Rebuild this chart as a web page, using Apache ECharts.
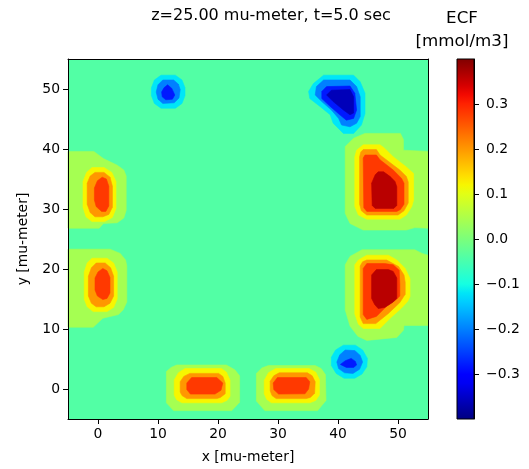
<!DOCTYPE html>
<html>
<head>
<meta charset="utf-8">
<title>ECF contour</title>
<script src="https://cdn.jsdelivr.net/npm/echarts@6/dist/echarts.min.js"></script>
<style>
  html, body { margin: 0; padding: 0; background: #fff; }
  #chart { width: 529px; height: 469px; }
</style>
</head>
<body>
<div id="chart"></div>
<script>
// contour band edges (mmol/m3), band i = [levelEdges[i], levelEdges[i+1]]
const levelEdges = [-0.4, -0.32, -0.24, -0.16, -0.08, 0, 0.08, 0.16, 0.24, 0.32, 0.4];
const backgroundLevel = 4;
const xTicks = [0, 10, 20, 30, 40, 50];
const yTicks = [0, 10, 20, 30, 40, 50];
const cbarTicks = [-0.3, -0.2, -0.1, 0, 0.1, 0.2, 0.3];
const cbarMin = -0.4;
const cbarMax = 0.4;

// contour polygons: [band, [[x, y], ...]] in mu-meter
const upperLeftBlob = [
  [5, [[-5, 39.6], [-0.7, 39.6], [0.9, 38.4], [3.2, 37.3], [4.3, 36.5], [4.7, 35.5], [4.7, 29.8], [4.3, 28.5], [3.2, 27.7], [0.9, 27.6], [0.2, 26.8], [-5, 26.8]]],
  [6, [[-1, 36.9], [1, 36.9], [2.3, 36.1], [3, 34.6], [3, 30.1], [2.4, 28.6], [1.1, 27.9], [-1, 27.9], [-2, 28.7], [-2.5, 30.3], [-2.5, 34.6], [-1.9, 36.1]]],
  [7, [[-0.5, 36.1], [1, 36.1], [2, 35.3], [2.4, 33.8], [2.4, 30.3], [1.8, 29.1], [0.8, 28.7], [-0.5, 28.7], [-1.3, 29.4], [-1.8, 30.8], [-1.8, 34.3], [-1.3, 35.5]]],
  [8, [[0.7, 35.3], [1.4, 35], [1.8, 33.8], [1.8, 30.5], [1.3, 29.6], [0.6, 29.6], [-0.3, 30.4], [-0.6, 31.5], [-0.6, 33.5], [-0.1, 34.7]]]
];

const lowerLeftBlob = [
  [5, [[-5, 23.3], [2, 23.3], [3.7, 22.6], [4.6, 21.5], [4.8, 20.5], [4.8, 14.5], [4.2, 13.2], [3.4, 12.4], [0.8, 11.8], [-0.8, 10.3], [-5, 10.3]]],
  [6, [[-1, 21.8], [1.5, 21.8], [2.6, 21], [3.2, 19.5], [3.2, 15], [2.6, 13.6], [1.5, 12.9], [-0.8, 12.9], [-1.8, 13.7], [-2.3, 15], [-2.3, 19.5], [-1.8, 21]]],
  [7, [[-0.3, 21], [1.2, 21], [2.1, 20.2], [2.6, 18.8], [2.6, 15.5], [2, 14.3], [1, 13.7], [-0.3, 13.7], [-1.1, 14.3], [-1.6, 15.5], [-1.6, 18.8], [-1.1, 20.2]]],
  [8, [[0.8, 20.1], [1.5, 19.7], [2, 18.6], [2, 16], [1.5, 15.1], [0.8, 14.9], [-0.1, 15.5], [-0.5, 16.5], [-0.5, 18.5], [0, 19.5]]]
];

const bottomLeftBlob = [
  [5, [[11.4, 2.9], [12.2, 3.6], [13.1, 4], [21.4, 4], [22.8, 3.2], [23.6, 2.2], [23.6, -2.2], [22.3, -3.6], [12.6, -3.6], [11.4, -2.3]]],
  [6, [[14.5, 3.4], [20.6, 3.4], [21.4, 2.8], [22, 1.5], [22, -1.2], [21.5, -1.9], [20.6, -2.3], [14, -2.3], [13.1, -1.8], [12.7, -1], [12.7, 1.5], [13.4, 2.7]]],
  [7, [[15.3, 2.6], [20.1, 2.6], [20.8, 2.1], [21.2, 1], [21.2, -0.8], [20.4, -1.4], [19.8, -1.6], [14.8, -1.6], [14, -1.1], [13.7, -0.5], [13.7, 1.2], [14.3, 2.1]]],
  [8, [[15.6, 1.9], [19.8, 1.9], [20.8, 1], [20.5, -0.2], [19.5, -0.85], [15.4, -0.85], [14.8, -0.1], [14.8, 1]]]
];

const bottomRightBlob = [
  [5, [[26.4, 2.6], [27.3, 3.5], [28.4, 3.9], [36.2, 3.9], [37.2, 3.4], [37.9, 2.4], [38, -1.9], [36.6, -3.6], [27.8, -3.6], [26.4, -2]]],
  [6, [[29.6, 3.4], [35.2, 3.4], [36.3, 2.8], [36.9, 1.6], [36.9, -1], [36.3, -1.9], [35.3, -2.3], [28.9, -2.3], [28.1, -1.7], [27.7, -0.8], [27.7, 1.4], [28.4, 2.7]]],
  [7, [[30.2, 2.7], [34.9, 2.7], [35.7, 2.2], [36.2, 1.2], [36.1, -0.7], [35.4, -1.4], [34.7, -1.6], [29.7, -1.6], [29, -1.1], [28.7, -0.3], [28.7, 1.3], [29.3, 2.2]]],
  [8, [[29.9, 1.9], [34.7, 1.9], [35.3, 1.2], [35.1, 0], [34.5, -0.8], [30.1, -0.85], [29.3, -0.1], [29.2, 1]]]
];

const upperRightBlob = [
  [5, [[44.5, 42.6], [50.4, 42.6], [50.9, 41.6], [50.9, 39.8], [55, 39.6], [55, 26.8], [52.8, 26.9], [51.4, 26.5], [44.2, 26.5], [42, 27.6], [41.2, 29.3], [41.2, 40.4], [42.6, 41.8]]],
  [6, [[44.2, 40.7], [47, 40.7], [47.8, 40.1], [49.2, 38.7], [51.4, 37], [52.6, 35.9], [52.6, 31.5], [52.3, 30.4], [51.4, 29], [50.3, 28.3], [44.8, 28.3], [43.4, 29], [42.8, 30.4], [42.8, 38.7], [43.1, 39.8]]],
  [7, [[44.2, 39.9], [46.4, 39.9], [47, 39], [50.3, 36.5], [51.4, 35.4], [51.7, 34.5], [51.7, 31], [51, 29.7], [50, 29], [44.8, 29], [43.9, 29.7], [43.6, 30.8], [43.6, 38.7], [43.8, 39.5]]],
  [8, [[44.5, 39], [46.4, 39], [47, 38.2], [49.2, 36.5], [50.6, 35.1], [51, 34.3], [51, 30.8], [50.4, 29.9], [49.8, 29.6], [44.8, 29.6], [44.3, 30.2], [44.2, 38.5]]],
  [9, [[46.7, 36.2], [47.6, 36.2], [48.7, 35.4], [49.5, 34.6], [49.8, 33.7], [49.8, 30.6], [49.3, 30.1], [46.2, 30.1], [45.7, 30.6], [45.6, 34.3], [46.2, 35.7]]]
];

const lowerRightBlob = [
  [5, [[44, 23.2], [52.8, 23.2], [54, 22.6], [55, 22.3], [55, 10.6], [51, 10.6], [50.9, 9.8], [49.8, 8.6], [44.8, 8.1], [43.3, 8.8], [42, 10.5], [41.2, 13.2], [41.2, 20.7], [42, 22.1]]],
  [6, [[44.8, 22.3], [48.4, 22.3], [49.8, 21.5], [51.2, 20.1], [52, 18.4], [52, 15.4], [51.6, 14.6], [50.6, 13.5], [48.7, 11.8], [47, 10.1], [44.2, 10.1], [43.4, 10.8], [42.8, 12.5], [42.8, 20.7], [43.4, 21.5]]],
  [7, [[44.8, 21.5], [48.1, 21.5], [50.1, 20.4], [51, 19], [51.2, 17.8], [51.2, 15.8], [50.3, 14.4], [48.4, 12.6], [46.3, 10.9], [44.2, 10.9], [43.7, 12], [43.7, 20.5], [44.1, 21.2]]],
  [8, [[44.8, 20.9], [47.8, 20.9], [49.2, 20.7], [50.2, 19.8], [50.3, 17.5], [50.3, 15.5], [49.8, 15], [48.1, 13.8], [46.4, 12.1], [44.8, 11.6], [44.2, 12.4], [44.2, 20.1]]],
  [9, [[46.4, 19.9], [48.4, 19.9], [49.2, 19.6], [49.8, 18.5], [49.8, 15.1], [49.2, 14.5], [47.8, 13.6], [46.7, 13.4], [46.1, 14.1], [45.6, 15.1], [45.6, 19]]]
];

const smallBlueTop = [
  [3, [[10.5, 52.3], [12.9, 52.3], [14, 51.5], [14.5, 50.2], [14.5, 48.9], [14, 47.6], [12.9, 46.8], [10.5, 46.8], [9.4, 47.6], [8.9, 48.9], [8.9, 50.2], [9.4, 51.5]]],
  [2, [[10.8, 51.5], [12.6, 51.5], [13.4, 50.8], [13.7, 49.9], [13.5, 48.5], [12.7, 47.7], [10.8, 47.6], [10, 48.3], [9.7, 49.5], [10, 50.7]]],
  [1, [[11.6, 50.7], [12.3, 50.1], [12.8, 49], [12.4, 48.3], [11.3, 48.2], [10.7, 48.7], [10.6, 49.5], [11, 50.2]]]
];

const smallBlueBottom = [
  [3, [[40.9, 7.3], [42.9, 7.3], [44.1, 6.5], [44.9, 5.1], [44.8, 3.7], [44, 2.5], [42.8, 1.8], [41, 1.8], [39.7, 2.6], [38.9, 3.9], [38.9, 5.3], [39.6, 6.5]]],
  [2, [[41.2, 6.5], [42.8, 6.4], [43.7, 5.6], [44.1, 4.5], [43.6, 3.3], [42.5, 2.6], [41.1, 2.7], [40.1, 3.4], [39.8, 4.5], [40.3, 5.7]]],
  [1, [[42.2, 5.1], [42.9, 4.6], [43.1, 4], [42.6, 3.6], [41.4, 3.6], [40.4, 4.1], [41.2, 4.7]]]
];

const bigBlueTop = [
  [3, [[37.6, 52.3], [42.6, 52.3], [43.7, 51.2], [44.5, 49.3], [44.5, 45.9], [43.9, 44], [42.6, 42.6], [40.9, 42.6], [39.2, 44.3], [38.7, 45.7], [37, 47.1], [35.3, 48.4], [35.1, 49.6], [35.9, 50.9]]],
  [2, [[37.6, 51.5], [42, 51.5], [43.1, 50.4], [43.7, 48.7], [43.7, 45.4], [43.1, 44.3], [42, 43.7], [40.6, 44], [40.1, 45.1], [38.9, 46.5], [37.3, 47.9], [36.2, 49], [36.4, 50.4]]],
  [1, [[38.1, 50.4], [42, 50.5], [42.8, 49.3], [43.1, 46.5], [42.6, 45.1], [41.4, 44.8], [40.3, 45.7], [38.7, 47.1], [37.3, 48.4], [37.3, 49.6]]],
  [0, [[38.9, 49.8], [42, 49.9], [42.6, 48.7], [42.6, 46], [42, 45.7], [40.9, 46.5], [39.2, 47.9], [38.1, 49]]]
];

const contourRings = [].concat(
  upperLeftBlob, lowerLeftBlob, bottomLeftBlob, bottomRightBlob,
  upperRightBlob, lowerRightBlob, smallBlueTop, smallBlueBottom, bigBlueTop
);

// matplotlib "jet" colormap
const jetSegments = {
  r: [[0, 0], [0.35, 0], [0.66, 1], [0.89, 1], [1, 0.5]],
  g: [[0, 0], [0.125, 0], [0.375, 1], [0.64, 1], [0.91, 0], [1, 0]],
  b: [[0, 0.5], [0.11, 1], [0.34, 1], [0.65, 0], [1, 0]]
};
function interpSeg(seg, t) {
  for (let i = 1; i < seg.length; i++) {
    if (t <= seg[i][0]) {
      const a = seg[i - 1], b = seg[i];
      return a[1] + (b[1] - a[1]) * (t - a[0]) / (b[0] - a[0]);
    }
  }
  return seg[seg.length - 1][1];
}
function jet(t) {
  t = Math.max(0, Math.min(1, t));
  const c = ['r', 'g', 'b'].map(k => Math.round(255 * interpSeg(jetSegments[k], t)));
  return 'rgb(' + c.join(',') + ')';
}
function bandColor(i) {
  const mid = (levelEdges[i] + levelEdges[i + 1]) / 2;
  return jet((mid - cbarMin) / (cbarMax - cbarMin));
}

const FONT = 'DejaVu Sans';
const tickFont = { color: '#000', fontSize: 13.9, fontFamily: FONT };
const fmtMinus = v => v.toFixed(1).replace('-', '\u2212');

const chart = echarts.init(document.getElementById('chart'), null, { renderer: 'canvas' });

const option = {
  animation: false,
  backgroundColor: '#fff',
  graphic: [
    {
      type: 'text',
      style: {
        text: 'z=25.00 mu-meter, t=5.0 sec', x: 271, y: 16,
        textAlign: 'center', textVerticalAlign: 'middle',
        fontSize: 16, fontFamily: FONT, fill: '#000'
      }
    },
    {
      type: 'text',
      style: {
        text: 'ECF\n[mmol/m3]', x: 462, y: 30,
        textAlign: 'center', textVerticalAlign: 'middle',
        fontSize: 16.7, lineHeight: 23, fontFamily: FONT, fill: '#000'
      }
    }
  ],
  grid: [
    { left: 68, top: 59, width: 360, height: 360, show: true, borderWidth: 0, backgroundColor: bandColor(backgroundLevel) },
    { left: 457, top: 59, width: 17, height: 360 }
  ],
  xAxis: [
    {
      type: 'value', gridIndex: 0, min: -5, max: 55, position: 'bottom', z: 10,
      axisLine: { show: true, onZero: false, lineStyle: { color: '#000', width: 1 } },
      axisTick: { show: true, customValues: xTicks, length: 5, lineStyle: { color: '#000' } },
      axisLabel: Object.assign({ customValues: xTicks, margin: 8 }, tickFont),
      splitLine: { show: false },
      name: 'x [mu-meter]', nameLocation: 'middle', nameGap: 31,
      nameTextStyle: tickFont
    },
    {
      type: 'value', gridIndex: 0, min: -5, max: 55, position: 'top', z: 10,
      axisLine: { show: true, onZero: false, lineStyle: { color: '#000', width: 1 } },
      axisTick: { show: false }, axisLabel: { show: false }, splitLine: { show: false }
    },
    { type: 'value', gridIndex: 1, min: 0, max: 1, show: false }
  ],
  yAxis: [
    {
      type: 'value', gridIndex: 0, min: -5, max: 55, position: 'left', z: 10,
      axisLine: { show: true, onZero: false, lineStyle: { color: '#000', width: 1 } },
      axisTick: { show: true, customValues: yTicks, length: 5, lineStyle: { color: '#000' } },
      axisLabel: Object.assign({ customValues: yTicks, margin: 8 }, tickFont),
      splitLine: { show: false },
      name: 'y [mu-meter]', nameLocation: 'middle', nameGap: 38,
      nameTextStyle: tickFont
    },
    {
      type: 'value', gridIndex: 0, min: -5, max: 55, position: 'right', z: 10,
      axisLine: { show: true, onZero: false, lineStyle: { color: '#000', width: 1 } },
      axisTick: { show: false }, axisLabel: { show: false }, splitLine: { show: false }
    },
    {
      type: 'value', gridIndex: 1, min: cbarMin, max: cbarMax, position: 'right', z: 10,
      axisLine: { show: true, onZero: false, lineStyle: { color: '#000', width: 1 } },
      axisTick: { show: true, customValues: cbarTicks, length: 5, lineStyle: { color: '#000' } },
      axisLabel: Object.assign({ customValues: cbarTicks, margin: 12, formatter: fmtMinus }, tickFont),
      splitLine: { show: false }
    }
  ],
  series: [
    {
      type: 'custom',
      xAxisIndex: 0, yAxisIndex: 0,
      silent: true,
      data: contourRings.map((r, i) => [i, r[0]]),
      encode: { x: 0, y: 1 },
      renderItem: function (params, api) {
        const ring = contourRings[api.value(0)];
        const pts = ring[1].map(p => api.coord(p));
        const col = bandColor(ring[0]);
        return {
          type: 'polygon',
          shape: { points: pts },
          style: { fill: col, stroke: col, lineWidth: 0.6 }
        };
      }
    },
    {
      type: 'custom',
      xAxisIndex: 2, yAxisIndex: 2,
      silent: true,
      data: [[0, cbarMin]],
      encode: { x: 0, y: 1 },
      renderItem: function (params, api) {
        const p0 = api.coord([0, cbarMax]);
        const p1 = api.coord([1, cbarMin]);
        const stops = [];
        for (let k = 0; k <= 40; k++) {
          stops.push({ offset: k / 40, color: jet(k / 40) });
        }
        return {
          type: 'rect',
          shape: { x: p0[0], y: p0[1], width: p1[0] - p0[0], height: p1[1] - p0[1] },
          style: {
            fill: new echarts.graphic.LinearGradient(0, 1, 0, 0, stops),
            stroke: '#000', lineWidth: 1
          }
        };
      }
    }
  ]
};

chart.setOption(option);

window.addEventListener('resize', () => chart.resize());
</script>
</body>
</html>
